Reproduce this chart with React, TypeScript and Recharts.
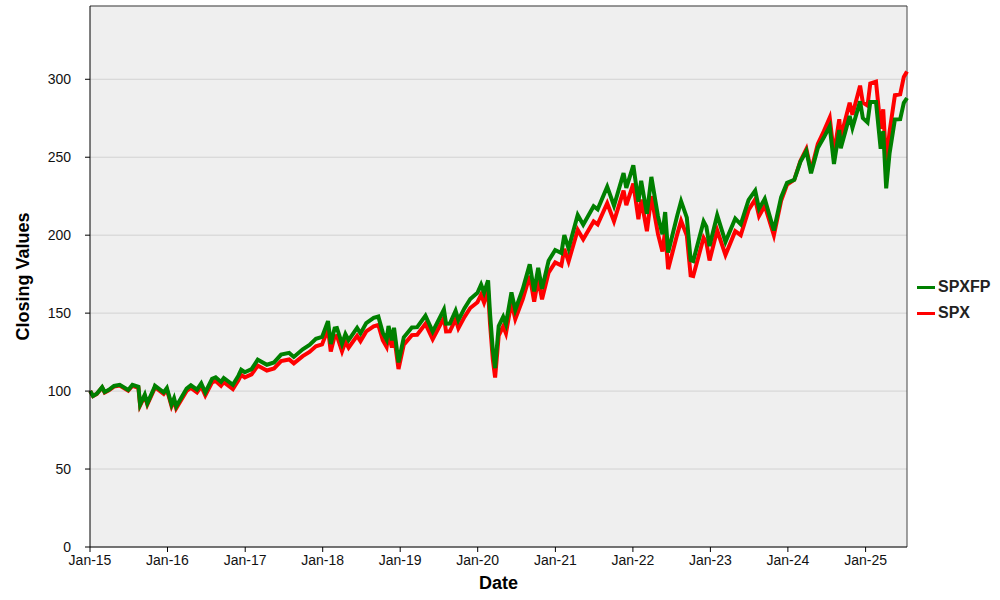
import { LineChart, Line, XAxis, YAxis, CartesianGrid, ReferenceLine } from 'recharts';

const dates = [
  '2015-01-02', '2015-01-15', '2015-02-02', '2015-02-27', '2015-03-11', '2015-03-31', '2015-04-24', '2015-05-21',
  '2015-06-30', '2015-07-20', '2015-08-17', '2015-08-25', '2015-09-16', '2015-09-28', '2015-10-30', '2015-11-03',
  '2015-12-14', '2015-12-29', '2016-01-20', '2016-02-01', '2016-02-11', '2016-03-31', '2016-04-20', '2016-05-19',
  '2016-06-08', '2016-06-27', '2016-07-29', '2016-08-15', '2016-09-09', '2016-09-22', '2016-11-04', '2016-11-30',
  '2016-12-13', '2016-12-30', '2017-01-31', '2017-03-01', '2017-04-13', '2017-05-17', '2017-06-19', '2017-07-27',
  '2017-08-18', '2017-09-29', '2017-10-31', '2017-11-30', '2017-12-29', '2018-01-26', '2018-02-08', '2018-02-26',
  '2018-03-09', '2018-04-02', '2018-04-18', '2018-05-03', '2018-06-12', '2018-06-28', '2018-07-25', '2018-08-29',
  '2018-09-20', '2018-10-11', '2018-10-29', '2018-11-07', '2018-11-23', '2018-12-03', '2018-12-24', '2019-01-18',
  '2019-02-25', '2019-03-22', '2019-04-30', '2019-06-03', '2019-07-26', '2019-08-05', '2019-08-23', '2019-09-19',
  '2019-10-02', '2019-10-31', '2019-11-27', '2019-12-31', '2020-01-17', '2020-01-31', '2020-02-19', '2020-02-28',
  '2020-03-12', '2020-03-23', '2020-04-09', '2020-04-30', '2020-05-13', '2020-06-08', '2020-06-26', '2020-07-31',
  '2020-09-02', '2020-09-23', '2020-10-12', '2020-10-30', '2020-11-30', '2020-12-31', '2021-01-29', '2021-02-12',
  '2021-03-04', '2021-04-16', '2021-05-12', '2021-06-30', '2021-07-19', '2021-09-02', '2021-10-04', '2021-11-18',
  '2021-12-01', '2022-01-03', '2022-01-27', '2022-02-09', '2022-03-08', '2022-03-29', '2022-04-29', '2022-05-20',
  '2022-06-02', '2022-06-16', '2022-07-29', '2022-08-16', '2022-09-12', '2022-09-30', '2022-10-12', '2022-11-30',
  '2022-12-13', '2022-12-28', '2023-02-02', '2023-03-13', '2023-04-28', '2023-05-24', '2023-06-30', '2023-07-31',
  '2023-08-18', '2023-09-14', '2023-10-27', '2023-11-30', '2023-12-28', '2024-01-31', '2024-02-29', '2024-03-28',
  '2024-04-19', '2024-05-21', '2024-06-18', '2024-07-16', '2024-08-05', '2024-08-30', '2024-09-06', '2024-10-18',
  '2024-10-31', '2024-12-06', '2024-12-19', '2025-01-10', '2025-01-23', '2025-02-19', '2025-03-13', '2025-03-25',
  '2025-04-08', '2025-04-24', '2025-05-19', '2025-06-13', '2025-06-30', '2025-07-15',
];

const spx = [
  100.0, 96.8, 98.2, 102.3, 99.1, 100.5, 102.9, 103.5,
  100.2, 103.4, 102.1, 90.8, 96.9, 91.4, 101.0, 102.5,
  98.2, 101.0, 90.3, 94.2, 88.9, 100.1, 102.1, 99.1,
  103.0, 97.2, 105.6, 106.5, 103.4, 105.8, 101.3, 106.9,
  110.4, 108.8, 110.7, 116.4, 113.2, 114.5, 119.2, 120.3,
  117.8, 122.4, 125.1, 128.7, 129.9, 139.6, 125.4, 135.1,
  135.4, 125.5, 131.6, 127.8, 135.4, 132.0, 138.3, 141.6,
  142.4, 132.6, 128.3, 136.7, 127.9, 135.6, 114.2, 129.8,
  135.9, 136.1, 143.1, 133.3, 147.0, 138.2, 138.3, 146.1,
  140.3, 147.6, 153.3, 157.0, 161.8, 156.8, 164.5, 143.5,
  120.6, 108.7, 135.6, 141.5, 137.0, 157.0, 146.2, 158.9,
  174.0, 157.3, 171.8, 158.9, 176.0, 182.5, 180.5, 191.2,
  183.1, 203.4, 197.4, 208.8, 206.9, 220.5, 208.9, 228.6,
  219.3, 233.1, 210.3, 222.9, 202.6, 225.0, 200.8, 189.6,
  203.0, 178.2, 200.7, 209.2, 199.7, 174.2, 173.8, 198.3,
  195.3, 183.8, 203.1, 187.3, 202.6, 200.0, 216.2, 223.0,
  212.3, 218.9, 200.0, 222.0, 232.4, 235.5, 247.6, 255.3,
  241.4, 258.6, 266.6, 275.4, 252.0, 274.4, 262.8, 285.0,
  277.2, 295.9, 285.1, 283.1, 297.3, 298.5, 268.3, 280.7,
  246.0, 266.5, 289.8, 290.4, 301.5, 305.0,
];

const spxfp = [
  100.0, 96.9, 98.3, 102.5, 99.4, 100.8, 103.3, 104.0,
  100.7, 104.0, 102.8, 91.4, 97.7, 92.1, 101.9, 103.4,
  99.2, 102.0, 91.4, 95.4, 90.1, 101.6, 103.7, 100.9,
  105.0, 99.1, 107.9, 108.9, 105.9, 108.4, 104.0, 109.9,
  113.7, 112.1, 114.1, 120.1, 116.9, 118.4, 123.4, 124.5,
  121.9, 126.8, 129.6, 133.5, 134.7, 144.9, 130.2, 140.2,
  140.5, 130.3, 136.6, 132.7, 140.5, 137.0, 143.6, 147.0,
  147.8, 137.5, 133.0, 141.8, 132.6, 140.6, 118.4, 134.5,
  140.8, 141.0, 148.3, 138.1, 152.3, 143.2, 143.3, 151.5,
  145.5, 153.2, 159.1, 163.1, 168.3, 163.1, 171.1, 150.0,
  126.6, 114.7, 141.7, 147.6, 142.9, 163.3, 152.0, 165.3,
  181.3, 163.9, 179.0, 165.6, 183.6, 190.5, 188.6, 200.0,
  191.5, 213.0, 206.7, 218.6, 216.6, 231.1, 218.9, 239.8,
  230.3, 244.8, 221.4, 234.9, 213.7, 237.4, 212.2, 200.6,
  214.8, 188.9, 212.7, 221.8, 211.3, 184.0, 183.4, 208.8,
  205.5, 193.0, 212.8, 195.7, 210.7, 207.0, 222.7, 228.6,
  217.0, 223.3, 203.0, 224.2, 233.6, 235.5, 247.1, 254.0,
  239.7, 256.0, 262.6, 269.9, 245.7, 267.5, 255.7, 276.5,
  268.9, 285.8, 275.1, 272.3, 285.4, 285.4, 255.4, 266.7,
  230.0, 252.6, 274.2, 274.4, 284.9, 288.0,
];

const yTicks = [0, 50, 100, 150, 200, 250, 300];
const yearTicks = ['2015', '2016', '2017', '2018', '2019', '2020', '2021', '2022', '2023', '2024', '2025'];

const toTs = (d: string) => Date.parse(d + 'T00:00:00Z');
const xMin = toTs('2015-01-01');
const xMax = toTs('2025-07-15');
const yMax = 347;

const chartData = dates.map((d, i) => ({ t: toTs(d), SPX: spx[i], SPXFP: spxfp[i] }));
const xTicks = yearTicks.map((y) => toTs(y + '-01-01'));

const FONT = '"Liberation Sans", Arial, Helvetica, sans-serif';

const formatYear = (v: number) => 'Jan-' + String(new Date(v).getUTCFullYear()).slice(2);

export default function App() {
  return (
    <div style={{ position: 'absolute', left: 0, top: 0, width: 1000, height: 600, background: '#fff', fontFamily: FONT }}>
      <LineChart width={1000} height={600} data={chartData} margin={{ top: 6, right: 93, bottom: 0, left: 0 }}>
        <CartesianGrid vertical={false} stroke="#d2d2d2" fill="#efefef" />
        <XAxis
          dataKey="t"
          type="number"
          scale="time"
          domain={[xMin, xMax]}
          ticks={xTicks}
          tickFormatter={formatYear}
          height={53}
          axisLine={{ stroke: '#000' }}
          tickLine={{ stroke: '#000' }}
          tickSize={5}
          tickMargin={3}
          tick={{ fontSize: 14, fill: '#111', fontFamily: FONT }}
          label={{
            content: (props: any) => {
              const vb = props.viewBox || { x: 90, y: 547, width: 817 };
              return (
                <text x={vb.x + vb.width / 2} y={vb.y + 42} textAnchor="middle" fontSize={18} fontWeight="bold" fill="#000" fontFamily={FONT}>
                  Date
                </text>
              );
            },
          }}
        />
        <YAxis
          type="number"
          domain={[0, yMax]}
          ticks={yTicks}
          width={90}
          axisLine={{ stroke: '#000' }}
          tickLine={{ stroke: '#000' }}
          tickSize={5}
          tickMargin={14}
          tick={{ fontSize: 14, fill: '#111', fontFamily: FONT }}
          label={{
            content: (props: any) => {
              const vb = props.viewBox || { x: 0, y: 6, height: 541 };
              const cy = vb.y + vb.height / 2;
              return (
                <text x={29} y={cy} transform={`rotate(-90, 29, ${cy})`} textAnchor="middle" fontSize={18} fontWeight="bold" fill="#000" fontFamily={FONT}>
                  Closing Values
                </text>
              );
            },
          }}
        />
        <ReferenceLine y={yMax} stroke="#444" strokeWidth={1} />
        <ReferenceLine x={xMax} stroke="#444" strokeWidth={1} />
        <Line type="linear" dataKey="SPX" stroke="#ff0000" strokeWidth={4} dot={false} isAnimationActive={false} />
        <Line type="linear" dataKey="SPXFP" stroke="#008000" strokeWidth={4} dot={false} isAnimationActive={false} />
      </LineChart>
      <div style={{ position: 'absolute', left: 917, top: 274, fontFamily: FONT, fontWeight: 'bold', fontSize: 16, color: '#222' }}>
        {[
          { name: 'SPXFP', color: '#008000' },
          { name: 'SPX', color: '#ff0000' },
        ].map((item) => (
          <div key={item.name} style={{ display: 'flex', alignItems: 'center', height: 26 }}>
            <span style={{ display: 'inline-block', width: 18, height: 3, background: item.color, marginRight: 3 }} />
            <span>{item.name}</span>
          </div>
        ))}
      </div>
    </div>
  );
}
